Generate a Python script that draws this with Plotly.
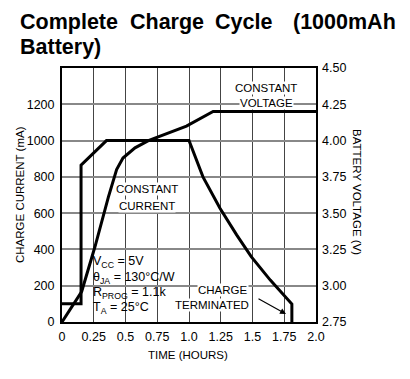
import plotly.graph_objects as go

# ---- data ----
time_current = [0, 0.15, 0.15, 0.35, 1.0, 1.11, 1.244, 1.375, 1.49, 1.64, 1.81, 1.81]
charge_current = [100, 100, 865, 1000, 1000, 800, 627, 480, 360, 231, 99, 0]

time_voltage = [0, 0.155, 0.26, 0.365, 0.43, 0.48, 0.575, 0.68, 0.98, 1.19, 2.0]
battery_voltage = [2.75, 2.96, 3.27, 3.61, 3.80, 3.88, 3.95, 4.0, 4.10, 4.2, 4.2]

x_ticks = [0, 0.25, 0.5, 0.75, 1.0, 1.25, 1.5, 1.75, 2.0]
x_ticktext = ["0", "0.25", "0.5", "0.75", "1.0", "1.25", "1.5", "1.75", "2.0"]
current_ticks = [0, 200, 400, 600, 800, 1000, 1200]
voltage_ticks = [2.75, 3.0, 3.25, 3.5, 3.75, 4.0, 4.25, 4.5]
voltage_ticktext = ["2.75", "3.00", "3.25", "3.50", "3.75", "4.00", "4.25", "4.50"]

FONT = "Liberation Sans, Arial, Helvetica, sans-serif"

fig = go.Figure()
fig.add_trace(go.Scatter(x=time_current, y=charge_current, mode="lines",
                         line=dict(color="black", width=3), yaxis="y",
                         showlegend=False, hoverinfo="skip"))
fig.add_trace(go.Scatter(x=time_voltage, y=battery_voltage, mode="lines",
                         line=dict(color="black", width=3), yaxis="y2",
                         showlegend=False, hoverinfo="skip"))

# page body has an 8px margin: size the figure so that it ends at the window edge
OFF = 8
VW, VH = 410, 379
PL, PR, PT, PB = 62, 316, 68, 322  # plot box in window pixels
W, H = VW - OFF, VH - OFF
L, R, T, B = PL - OFF, VW - PR, PT - OFF, VH - PB
pw = PR - PL
ph = PB - PT

def px(x):
    return (x - PL) / pw

def py(y):
    return (PB - y) / ph

annotations = []
# title words (justified)
title_font = dict(family=FONT, size=21.5, color="black")
for word, xp, anchor in [("Complete", 18, "left"), ("Charge", 128, "left"),
                         ("Cycle", 213, "left"), ("(1000mAh", 398, "right")]:
    annotations.append(dict(text="<b>%s</b>" % word, x=px(xp), y=py(22), xref="paper", yref="paper",
                            xanchor=anchor, yanchor="middle", showarrow=False, font=title_font))
annotations.append(dict(text="<b>Battery)</b>", x=px(18), y=py(47), xref="paper", yref="paper",
                        xanchor="left", yanchor="middle", showarrow=False, font=title_font))

lab_font = dict(family=FONT, size=11.5, color="black")

def lab(text, xc, yc, anchor="center", bg="white"):
    annotations.append(dict(text=text, x=px(xc), y=py(yc), xref="paper", yref="paper",
                            xanchor=anchor, yanchor="middle", showarrow=False, font=lab_font,
                            bgcolor=bg, borderpad=0))

lab("CONSTANT", 266, 88)
lab("VOLTAGE", 266, 103)
lab("CONSTANT", 147, 189)
lab("CURRENT", 147, 206)
lab("CHARGE", 223, 290)
lab("TERMINATED", 212, 305)

for text, yc in [("V<sub>CC</sub> = 5V", 262), ("θ<sub>JA</sub> = 130°C/W", 278),
                 ("R<sub>PROG</sub> = 1.1k", 293), ("T<sub>A</sub> = 25°C", 308)]:
    annotations.append(dict(text=text, x=px(91), y=py(yc), xref="paper", yref="paper",
                            xanchor="left", yanchor="middle", showarrow=False,
                            font=dict(family=FONT, size=12.5, color="black")))

# arrow to termination point
annotations.append(dict(text="", x=px(286), y=py(314), xref="paper", yref="paper",
                        ax=-29, ay=-16, showarrow=True, arrowhead=2, arrowsize=1,
                        arrowwidth=1.2, arrowcolor="black"))

# axis titles
ax_font = dict(family=FONT, size=11.5, color="black")
annotations.append(dict(text="CHARGE CURRENT (mA)", x=px(20), y=py(195), xref="paper", yref="paper",
                        xanchor="center", yanchor="middle",
                        textangle=-90, showarrow=False, font=ax_font))
annotations.append(dict(text="BATTERY VOLTAGE (V)", x=px(357), y=py(192), xref="paper", yref="paper",
                        xanchor="center", yanchor="middle",
                        textangle=90, showarrow=False, font=ax_font))
annotations.append(dict(text="TIME (HOURS)", x=px(188), y=py(355), xref="paper", yref="paper",
                        xanchor="center", yanchor="middle",
                        showarrow=False, font=ax_font))

shapes = [dict(type="rect", xref="paper", yref="paper", x0=px(89), x1=px(172), y0=py(316), y1=py(254),
               fillcolor="white", line=dict(width=0), layer="between")]

tick_font = dict(family=FONT, size=12.5, color="black")
fig.update_layout(
    width=W, height=H,
    margin=dict(l=L, r=R, t=T, b=B),
    paper_bgcolor="white", plot_bgcolor="white",
    xaxis=dict(range=[0, 2], tickvals=x_ticks, ticktext=x_ticktext, showgrid=True,
               gridcolor="#444", gridwidth=1, showline=True, linecolor="black", linewidth=2,
               mirror=True, zeroline=False, ticks="inside", ticklen=5, tickcolor="#444",
               tickfont=tick_font, ticklabelstandoff=2, fixedrange=True),
    yaxis=dict(range=[0, 1400], tickvals=current_ticks, showgrid=True, gridcolor="#888",
               gridwidth=1.5, showline=True, linecolor="black", linewidth=2, mirror=True,
               zeroline=False, ticks="", tickfont=tick_font, ticklabelstandoff=3),
    yaxis2=dict(range=[2.75, 4.5], tickvals=voltage_ticks, ticktext=voltage_ticktext,
                overlaying="y", side="right", showgrid=False, zeroline=False, ticks="",
                showline=False, tickfont=tick_font, ticklabelstandoff=5),
    annotations=annotations,
    shapes=shapes,
)

fig.write_html("out.html")
